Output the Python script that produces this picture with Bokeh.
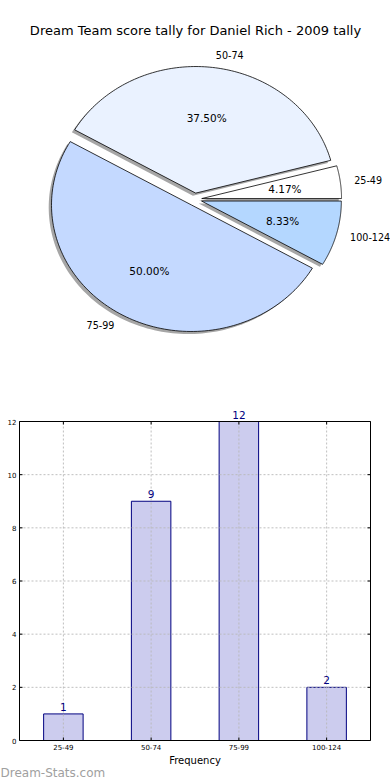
import numpy as np
from bokeh.plotting import figure
from bokeh.models import Label, Range1d, ColumnDataSource
from bokeh.core.properties import value
from bokeh.embed import file_html
from bokeh.resources import INLINE

# ---- data ----
title_text = "Dream Team score tally for Daniel Rich - 2009 tally"
categories = ["25-49", "50-74", "75-99", "100-124"]
counts = [1, 9, 12, 2]
slice_colors = ["#ffffff", "#eaf2ff", "#c4d9ff", "#b4d7ff"]
explode = [0.05, 0.05, 0.05, 0.05]
y_ticks = [0, 2, 4, 6, 8, 10, 12]
y_max = 12
x_label = "Frequency"
watermark = "Dream-Stats.com"

FONT = "DejaVu Sans"
W, H = 390, 780

# pie placement (pixels) and scale (pixels per unit radius)
px_x, px_y = 139.8, 126.6
pie_cx, pie_cy = 194.3, 198.9
# bar frame placement (pixels)
fl, fr, ft, fb = 19, 370, 421, 740

p = figure(width=W, height=H, output_backend="svg", toolbar_location=None, min_border=0,
           x_range=Range1d(-pie_cx / px_x, (W - pie_cx) / px_x),
           y_range=Range1d(-(H - pie_cy) / px_y, pie_cy / px_y))
p.axis.visible = False
p.grid.visible = False
p.outline_line_color = None

ncat = len(categories)
ux = (fr - fl) / ncat
uy = (fb - ft) / y_max
p.extra_x_ranges = {"bx": Range1d(-0.5 - fl / ux, ncat - 0.5 + (W - fr) / ux)}
p.extra_y_ranges = {"by": Range1d(-(H - fb) / uy, y_max + ft / uy)}

# ---- pie ----
total = sum(counts)
fracs = [c / total for c in counts]
starts = np.cumsum([0] + fracs[:-1]) * 2 * np.pi
ends = np.cumsum(fracs) * 2 * np.pi

shadow_xs, shadow_ys, xs, ys = [], [], [], []
lab_x, lab_y, lab_t, lab_align = [], [], [], []
pct_x, pct_y, pct_t = [], [], []
for i in range(ncat):
    mid = (starts[i] + ends[i]) / 2
    ox = explode[i] * np.cos(mid)
    oy = explode[i] * np.sin(mid)
    t = np.linspace(starts[i], ends[i], 120)
    px = np.concatenate([[ox], ox + np.cos(t), [ox]])
    py = np.concatenate([[oy], oy + np.sin(t), [oy]])
    xs.append(list(px)); ys.append(list(py))
    shadow_xs.append(list(px - 0.02)); shadow_ys.append(list(py - 0.02))
    lab_x.append(ox + 1.1 * np.cos(mid)); lab_y.append(oy + 1.1 * np.sin(mid))
    lab_t.append(categories[i])
    lab_align.append("left" if np.cos(mid) > 0 else "right")
    pct_x.append(ox + 0.6 * np.cos(mid)); pct_y.append(oy + 0.6 * np.sin(mid))
    pct_t.append("%.2f%%" % (100 * fracs[i]))

p.patches(shadow_xs, shadow_ys, fill_color="#4d4d4d", fill_alpha=0.5, line_color=None)
p.patches(xs, ys, fill_color=slice_colors, line_color="black", line_width=0.8)
p.text(lab_x, lab_y, text=lab_t, text_align=lab_align, text_baseline="middle",
       text_font=value(FONT), text_font_size="9.6px", text_color="black")
p.text(pct_x, pct_y, text=pct_t, text_align="center", text_baseline="middle",
       text_font=value(FONT), text_font_size="10.5px", text_color="black")
p.add_layout(Label(x=W / 2, y=H - 30, x_units="screen", y_units="screen",
                   text=title_text, text_align="center", text_baseline="middle",
                   text_font=FONT, text_font_size="13px", text_color="black"))

# ---- bar chart ----
R = dict(x_range_name="bx", y_range_name="by")
idx = list(range(ncat))
x_lo, x_hi = -0.5, ncat - 0.5

src = ColumnDataSource(dict(x=idx, cnt=counts, lbl=[str(c) for c in counts], cat=categories))
p.vbar(x="x", top="cnt", bottom=0, width=0.45, source=src, fill_color="#ccccee",
       line_color="#000080", line_width=1, **R)

# dotted grid drawn over the bars
grid_kw = dict(line_color="#b8b8b8", line_dash="2 2", line_width=1, line_alpha=0.9)
p.segment(x0=[x_lo] * len(y_ticks), x1=[x_hi] * len(y_ticks), y0=y_ticks, y1=y_ticks,
          **grid_kw, **R)
p.segment(x0=idx, x1=idx, y0=[0] * ncat, y1=[y_max] * ncat, **grid_kw, **R)

p.text(x="x", y="cnt", text="lbl", source=src, text_align="center",
       text_baseline="bottom", y_offset=-3, text_font=value(FONT),
       text_font_size="10.5px", text_color="#000080", **R)

# frame
p.quad(left=x_lo, right=x_hi, bottom=0, top=y_max, fill_color=None,
       line_color="black", line_width=1, **R)

# tick marks (inward, on all four sides)
tk = dict(length=3, length_units="screen", line_color="black", line_width=1, **R)
p.ray(x=[x_lo] * len(y_ticks), y=y_ticks, angle=0, **tk)
p.ray(x=[x_hi] * len(y_ticks), y=y_ticks, angle=np.pi, **tk)
p.ray(x=idx, y=[0] * ncat, angle=np.pi / 2, **tk)
p.ray(x=idx, y=[y_max] * ncat, angle=-np.pi / 2, **tk)

# tick labels
p.text(x=[x_lo] * len(y_ticks), y=y_ticks, text=[str(v) for v in y_ticks],
       text_align="right", text_baseline="middle", x_offset=-3,
       text_font=value(FONT), text_font_size="7px", text_color="black", **R)
p.text(x="x", y=0, text="cat", source=src, text_align="center", text_baseline="top",
       y_offset=3, text_font=value(FONT), text_font_size="7px", text_color="black", **R)
p.text(x=[(x_lo + x_hi) / 2], y=[0], text=[x_label], text_align="center",
       text_baseline="top", y_offset=14, text_font=value(FONT), text_font_size="10px",
       text_color="black", **R)

p.add_layout(Label(x=0, y=8, x_units="screen", y_units="screen", text=watermark,
                   text_baseline="middle", text_font=FONT, text_font_size="12px",
                   text_color="#a0a0a0"))

open("out.html", "w").write(file_html(p, INLINE))
